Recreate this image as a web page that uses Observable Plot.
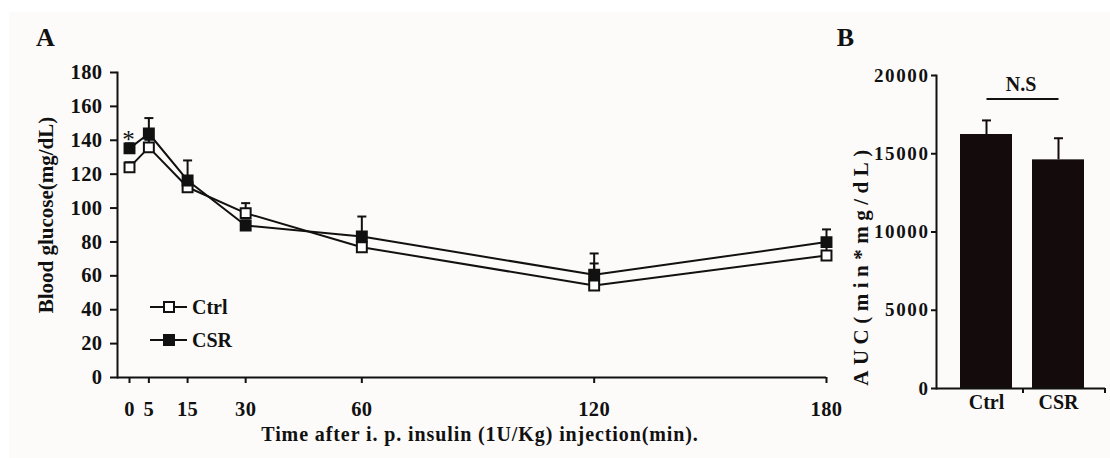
<!DOCTYPE html>
<html><head><meta charset="utf-8">
<script src="https://cdn.jsdelivr.net/npm/d3@7"></script>
<script src="https://cdn.jsdelivr.net/npm/@observablehq/plot@0.6"></script>
<style>
body{margin:0;background:#fff;}
#wrap{position:relative;width:1110px;height:458px;overflow:hidden;background:#fff;}
#bg{position:absolute;left:9px;top:12px;right:0;bottom:0;background:#fdfbfa;}
.panel{position:absolute;top:0;}
#legend{position:absolute;left:0;top:0;}
</style></head><body>
<div id="wrap"><div id="bg"></div><div id="pa" class="panel" style="left:0"></div><div id="pb" class="panel" style="left:840px"></div><svg id="legend" width="840" height="458"></svg></div>
<script>
// ---- data ----
const times = [0, 5, 15, 30, 60, 120, 180];
const ctrlMean = [124.0, 135.8, 112.3, 97.0, 76.9, 54.3, 72.0];
const ctrlSem  = [3, 4.5, 6, 5.9, 6, 13, 7];
const csrMean  = [135.2, 144.0, 116.3, 89.7, 83.2, 60.6, 79.9];
const csrSem   = [3, 9.1, 11.8, 3, 11.8, 12.6, 7.5];
const yTicksA = [0, 20, 40, 60, 80, 100, 120, 140, 160, 180];
const xTicksA = [0, 5, 15, 30, 60, 120, 180];
const sigMarks = [{t: 0, series: "CSR", label: "*"}];

const groups = ["Ctrl", "CSR"];
const aucMean = [16230, 14610];
const aucSem = [900, 1380];
const yTicksB = [0, 5000, 10000, 15000, 20000];
const nsLabel = "N.S";

// ---- tables ----
const ctrl = times.map((t, i) => ({t, mean: ctrlMean[i], sem: ctrlSem[i]}));
const csr = times.map((t, i) => ({t, mean: csrMean[i], sem: csrSem[i]}));
const sig = sigMarks.map(d => ({...d, y: (d.series === "CSR" ? csrMean : ctrlMean)[times.indexOf(d.t)]}));
const auc = groups.map((g, i) => ({g, mean: aucMean[i], sem: aucSem[i]}));

const INK = "#111";
const FONT = "'Liberation Serif', 'Times New Roman', serif";
const capSymbol = {draw(ctx, size) { const w = Math.sqrt(size / Math.PI); ctx.moveTo(-w, 0); ctx.lineTo(w, 0); }};
const baseStyle = {fontFamily: FONT, fontSize: "19px", fontWeight: "bold", background: "transparent", color: INK, overflow: "visible"};
const fmt = d => String(d);

// ---- Panel A ----
const pa = Plot.plot({
  width: 840, height: 458,
  marginLeft: 117, marginRight: 14, marginTop: 72, marginBottom: 81,
  style: baseStyle,
  x: {domain: [-3.1, 180]},
  y: {domain: [0, 180]},
  marks: [
    Plot.frame({anchor: "left", stroke: INK, strokeWidth: 2}),
    Plot.ruleY([0], {stroke: INK, strokeWidth: 2}),
    Plot.axisY({ticks: yTicksA, tickSize: 7, tickPadding: 8, strokeWidth: 2, label: null, tickFormat: fmt, fontSize: 20}),
    Plot.axisX({ticks: xTicksA, tickSize: 6, tickPadding: 18, strokeWidth: 2, label: null, tickFormat: fmt, fontSize: 20}),
    Plot.line(ctrl, {x: "t", y: "mean", stroke: INK, strokeWidth: 2}),
    Plot.line(csr, {x: "t", y: "mean", stroke: INK, strokeWidth: 2}),
    Plot.ruleX(ctrl, {x: "t", y1: "mean", y2: d => d.mean + d.sem, stroke: INK, strokeWidth: 2}),
    Plot.dot(ctrl, {x: "t", y: d => d.mean + d.sem, symbol: capSymbol, r: 4.5, stroke: INK, strokeWidth: 2}),
    Plot.ruleX(csr, {x: "t", y1: "mean", y2: d => d.mean + d.sem, stroke: INK, strokeWidth: 2}),
    Plot.dot(csr, {x: "t", y: d => d.mean + d.sem, symbol: capSymbol, r: 4.5, stroke: INK, strokeWidth: 2}),
    Plot.dot(ctrl, {x: "t", y: "mean", symbol: "square", r: 5.6, fill: "white", stroke: INK, strokeWidth: 2}),
    Plot.dot(csr, {x: "t", y: "mean", symbol: "square", r: 5.6, fill: INK, stroke: INK, strokeWidth: 2}),
    Plot.text(sig, {x: "t", y: "y", text: "label", dy: -8, dx: -1, fontSize: 25, fontWeight: "normal"}),
    Plot.text(["A"], {frameAnchor: "top-left", dx: -72, dy: -45, fontSize: 26, textAnchor: "middle"}),
    Plot.text(["Blood glucose(mg/dL)"], {frameAnchor: "left", dx: -71, dy: -10, rotate: -90, fontSize: 21, textAnchor: "middle"}),
    Plot.text(["Time after i. p. insulin (1U/Kg) injection(min)."], {frameAnchor: "bottom", dx: 8, dy: 63, fontSize: 20, textAnchor: "middle"})
  ]
});
document.getElementById("pa").appendChild(pa);

// ---- Panel B ----
const pb = Plot.plot({
  width: 270, height: 458,
  marginLeft: 96, marginRight: 5, marginTop: 75, marginBottom: 70,
  style: baseStyle,
  x: {domain: groups, paddingInner: 0.274, paddingOuter: 0.295, align: 0.53},
  y: {domain: [0, 20000]},
  marks: [
    Plot.barY(auc, {x: "g", y: "mean", fill: "#140c0c"}),
    Plot.ruleX(auc, {x: "g", y1: "mean", y2: d => d.mean + d.sem, stroke: "#140c0c", strokeWidth: 2}),
    Plot.dot(auc, {x: "g", y: d => d.mean + d.sem, symbol: capSymbol, r: 4.5, stroke: "#140c0c", strokeWidth: 2}),
    Plot.frame({anchor: "left", stroke: INK, strokeWidth: 2}),
    Plot.ruleY([0], {stroke: INK, strokeWidth: 2}),
    Plot.ruleX(["Ctrl"], {dx: 36.5, y1: 0, y2: 0, insetBottom: -5, stroke: INK, strokeWidth: 2}),
    Plot.ruleX(["CSR"], {dx: 46.5, y1: 0, y2: 0, insetBottom: -5, stroke: INK, strokeWidth: 2}),
    Plot.axisY({ticks: yTicksB, tickSize: 5, tickPadding: 2, strokeWidth: 2, label: null, tickFormat: fmt, fontSize: 19}),
    Plot.axisX({tickSize: 0, tickPadding: 6, label: null, fontSize: 20}),
    Plot.link([{a: groups[0], b: groups[1], y: 18500}], {x1: "a", x2: "b", y1: "y", y2: "y", stroke: INK, strokeWidth: 2}),
    Plot.text([{y: 19450, label: nsLabel}], {frameAnchor: "middle", y: "y", text: "label", fontSize: 20}),
    Plot.text(["B"], {frameAnchor: "top-left", dx: -91, dy: -48, fontSize: 26, textAnchor: "middle"}),
    Plot.text(["AUC(min*mg/dL)"], {frameAnchor: "left", dx: -75, dy: 33, rotate: -90, fontSize: 21, textAnchor: "middle"})
  ]
});
document.getElementById("pb").appendChild(pb);

// text styling tweaks (styling only)
function styleText(svg, match, styles) {
  const sel = d3.select(svg).selectAll("text").filter(function() { return match(this.textContent); });
  for (const [k, v] of Object.entries(styles)) sel.style(k, v);
}
styleText(pb, t => t === "AUC(min*mg/dL)", {"letter-spacing": "5.5px"});
styleText(pb, t => /^\d+$/.test(t), {"letter-spacing": "1.6px", "font-size": "19px"});
styleText(pa, t => t.startsWith("Time after"), {"letter-spacing": "0.9px"});
styleText(pa, t => /^\d+$/.test(t), {"letter-spacing": "0.4px", "font-size": "20.5px"});

// ---- legend (inside panel A) ----
const lg = d3.select("#legend");
const items = [{name: "Ctrl", fill: "white", y: 307}, {name: "CSR", fill: INK, y: 340}];
for (const it of items) {
  lg.append("line").attr("x1", 150).attr("x2", 187).attr("y1", it.y).attr("y2", it.y).attr("stroke", INK).attr("stroke-width", 2);
  lg.append("rect").attr("x", 164).attr("y", it.y - 5).attr("width", 10).attr("height", 10).attr("fill", it.fill).attr("stroke", INK).attr("stroke-width", 2);
  lg.append("text").attr("x", 192).attr("y", it.y + 7).attr("font-family", FONT).attr("font-size", 20).attr("font-weight", "bold").attr("fill", INK).text(it.name);
}
</script>
</body></html>
